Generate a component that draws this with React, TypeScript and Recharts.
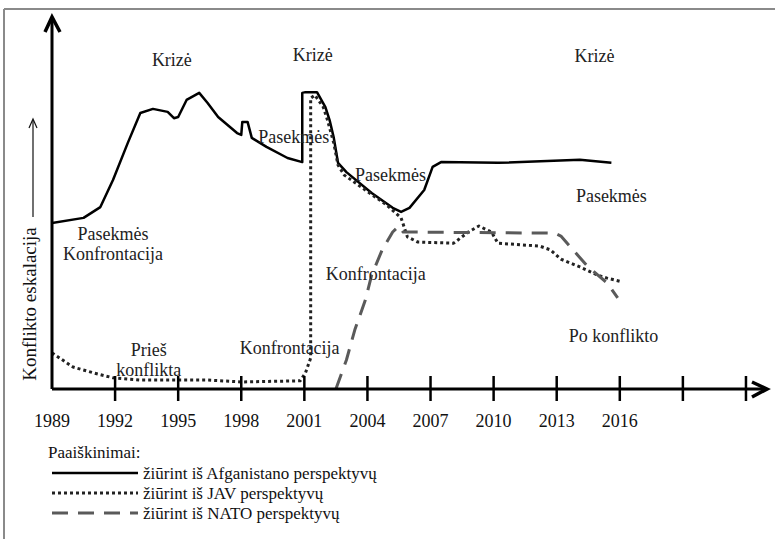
import React from "react";
import { Line, LineChart, ReferenceDot, XAxis, YAxis } from "recharts";

// Afganistano perspektyva (ištisinė linija)
const afgYears = [
  1989.0, 1990.5, 1991.3, 1991.9, 1992.6, 1993.2, 1993.8, 1994.5, 1994.8, 1995.0, 1995.4, 1996.0, 1996.4,
  1996.9, 1997.8, 1998.0, 1998.05, 1998.3, 1998.5, 1999.2, 2000.2, 2000.9, 2000.9, 2001.05, 2001.6, 2002.0,
  2002.2, 2002.4, 2002.6, 2003.0, 2004.2, 2005.2, 2005.6, 2006.0, 2006.7, 2007.1, 2007.5, 2010.2, 2014.1, 2015.6,
];
const afgValues = [
  44.6, 46.0, 48.9, 56.2, 66.1, 74.2, 75.3, 74.5, 72.8, 73.1, 77.7, 79.6, 76.9,
  73.1, 68.8, 68.3, 71.8, 71.8, 67.5, 65.1, 62.1, 61.0, 79.6, 79.8, 79.8, 75.8,
  72.3, 67.5, 60.8, 58.3, 52.7, 48.7, 47.6, 48.7, 53.5, 59.7, 61.0, 60.8, 61.6, 60.8,
];

// JAV perspektyva (taškinė linija)
const javYears = [
  1989.0, 1990.0, 1991.0, 1991.9, 1993.2, 1996.4, 1998.0, 2000.8, 2001.05, 2001.3, 2001.3, 2001.5, 2001.9,
  2002.1, 2002.4, 2002.6, 2002.9, 2003.9, 2004.9, 2005.6, 2005.9, 2006.4, 2008.1, 2008.8, 2009.3, 2009.9,
  2010.2, 2012.2, 2012.7, 2013.2, 2014.1, 2014.95, 2015.4, 2016.1,
];
const javValues = [
  9.7, 5.9, 4.3, 3.0, 2.4, 2.4, 1.9, 2.2, 4.3, 8.3, 78.2, 79.0, 75.8,
  72.3, 66.1, 60.2, 57.5, 53.5, 49.5, 46.0, 40.9, 39.5, 39.2, 42.2, 43.8, 42.2,
  39.2, 38.4, 37.4, 34.9, 32.8, 30.6, 29.8, 28.8,
];

// NATO perspektyva (brūkšninė linija)
const natoYears = [
  2002.5, 2003.0, 2003.4, 2003.9, 2004.2, 2004.7, 2005.2, 2005.5, 2005.7, 2012.9, 2013.2, 2013.9, 2014.5,
  2015.4, 2015.9,
];
const natoValues = [0, 7.8, 15.9, 23.9, 30.6, 37.4, 42.2, 43.8, 42.2, 41.9, 41.1, 36.6, 32.8, 28.5, 24.5];

const tickYears = [1989, 1992, 1995, 1998, 2001, 2004, 2007, 2010, 2013, 2016, 2019, 2022];
const lastLabelYear = 2016;

const annotations = [
  { text: "Krizė", year: 1994.7, value: 88.4 },
  { text: "Krizė", year: 2001.4, value: 89.8 },
  { text: "Krizė", year: 2014.8, value: 89.5 },
  { text: "Pasekmės", year: 2000.5, value: 67.7 },
  { text: "Pasekmės", year: 2005.1, value: 57.5 },
  { text: "Pasekmės", year: 2015.6, value: 51.9 },
  { text: "Pasekmės", year: 1991.9, value: 41.7 },
  { text: "Konfrontacija", year: 1991.9, value: 36.3 },
  { text: "Konfrontacija", year: 2004.4, value: 30.9 },
  { text: "Prieš", year: 1993.6, value: 10.5 },
  { text: "konflikta", year: 1993.6, value: 5.1 },
  { text: "Konfrontacija", year: 2000.3, value: 11.0 },
  { text: "Po konflikto", year: 2015.7, value: 14.2 },
];

const zip = (years: number[], values: number[]) => years.map((year, i) => ({ year, value: values[i] }));

const series = [
  { key: "afg", name: "žiūrint iš Afganistano perspektyvų", data: zip(afgYears, afgValues), stroke: "#000", width: 2.5, dash: undefined as string | undefined },
  { key: "jav", name: "žiūrint iš JAV perspektyvų", data: zip(javYears, javValues), stroke: "#222", width: 3, dash: "3 3" },
  { key: "nato", name: "žiūrint iš NATO perspektyvų", data: zip(natoYears, natoValues), stroke: "#5a5a5a", width: 3, dash: "16 10" },
];

const FONT = '"Liberation Serif", "Times New Roman", serif';

function YearTick(props: any) {
  const { x, y, payload } = props;
  const year = payload.value as number;
  return (
    <g>
      {year > 1989 && <line x1={x} x2={x} y1={y - 13} y2={y + 12} stroke="#000" strokeWidth={2.5} />}
      {year <= lastLabelYear && (
        <text x={x} y={y + 38} textAnchor="middle" fontFamily={FONT} fontSize={18} fill="#111">
          {year}
        </text>
      )}
    </g>
  );
}

function LegendBox() {
  return (
    <svg width={460} height={100} style={{ position: "absolute", left: 0, top: 439 }}>
      <text x={48} y={13} fontFamily={FONT} fontSize={17} fill="#111" dominantBaseline="central">
        Paaiškinimai:
      </text>
      {series.map((s, i) => {
        const cy = 34 + i * 20;
        return (
          <g key={s.key}>
            <line x1={52} x2={138} y1={cy} y2={cy} stroke={s.stroke} strokeWidth={s.width} strokeDasharray={s.dash} />
            <text x={143} y={cy} fontFamily={FONT} fontSize={17} fill="#111" dominantBaseline="central">
              {s.name}
            </text>
          </g>
        );
      })}
    </svg>
  );
}

export default function App() {
  return (
    <div style={{ position: "absolute", left: 0, top: 0, width: 775, height: 539, background: "#fff", overflow: "hidden" }}>
      <LineChart width={775} height={539} margin={{ top: 17, right: 8, left: 51, bottom: 149 }}>
        <XAxis
          type="number"
          dataKey="year"
          domain={[1989, 2023]}
          ticks={tickYears}
          interval={0}
          height={1}
          tickSize={0}
          tickMargin={0}
          tick={<YearTick />}
          axisLine={{ stroke: "#000", strokeWidth: 3 }}
          tickLine={false}
          allowDataOverflow
        />
        <YAxis type="number" domain={[0, 100]} width={1} tick={false} tickLine={false} axisLine={{ stroke: "#000", strokeWidth: 3 }} />
        {series.map((s) => (
          <Line
            key={s.key}
            data={s.data}
            dataKey="value"
            name={s.name}
            type="linear"
            stroke={s.stroke}
            strokeWidth={s.width}
            strokeDasharray={s.dash}
            strokeLinejoin="round"
            dot={false}
            activeDot={false}
            isAnimationActive={false}
          />
        ))}
        {annotations.map((a, i) => (
          <ReferenceDot
            key={i}
            x={a.year}
            y={a.value}
            r={0}
            ifOverflow="visible"
            shape={(p: any) => (
              <text x={p.cx} y={p.cy} textAnchor="middle" dominantBaseline="central" fontFamily={FONT} fontSize={18} fill="#222">
                {a.text}
              </text>
            )}
          />
        ))}
        <ReferenceDot
          x={2023}
          y={0}
          r={0}
          ifOverflow="visible"
          shape={(p: any) => (
            <polyline points={`${p.cx - 15},${p.cy - 7} ${p.cx},${p.cy} ${p.cx - 15},${p.cy + 8}`} fill="none" stroke="#000" strokeWidth={3.5} />
          )}
        />
        <ReferenceDot
          x={1989}
          y={100}
          r={0}
          ifOverflow="visible"
          shape={(p: any) => (
            <polyline points={`${p.cx - 7},${p.cy + 15} ${p.cx},${p.cy} ${p.cx + 8},${p.cy + 15}`} fill="none" stroke="#000" strokeWidth={3.5} />
          )}
        />
      </LineChart>
      <LegendBox />
      <svg width={775} height={539} style={{ position: "absolute", left: 0, top: 0, pointerEvents: "none" }}>
        <line x1={4} x2={775} y1={9} y2={9} stroke="#8a8a8a" strokeWidth={2} />
        <line x1={4} x2={4} y1={9} y2={539} stroke="#8a8a8a" strokeWidth={2} />
        <text
          x={29}
          y={304}
          transform="rotate(-90 29 304)"
          textAnchor="middle"
          dominantBaseline="central"
          fontFamily={FONT}
          fontSize={19}
          fill="#111"
        >
          Konflikto eskalacija
        </text>
        <line x1={33} x2={33} y1={217} y2={120} stroke="#111" strokeWidth={1.2} />
        <polyline points="29,128 33,119 37,128" fill="none" stroke="#111" strokeWidth={1.2} />
      </svg>
    </div>
  );
}
